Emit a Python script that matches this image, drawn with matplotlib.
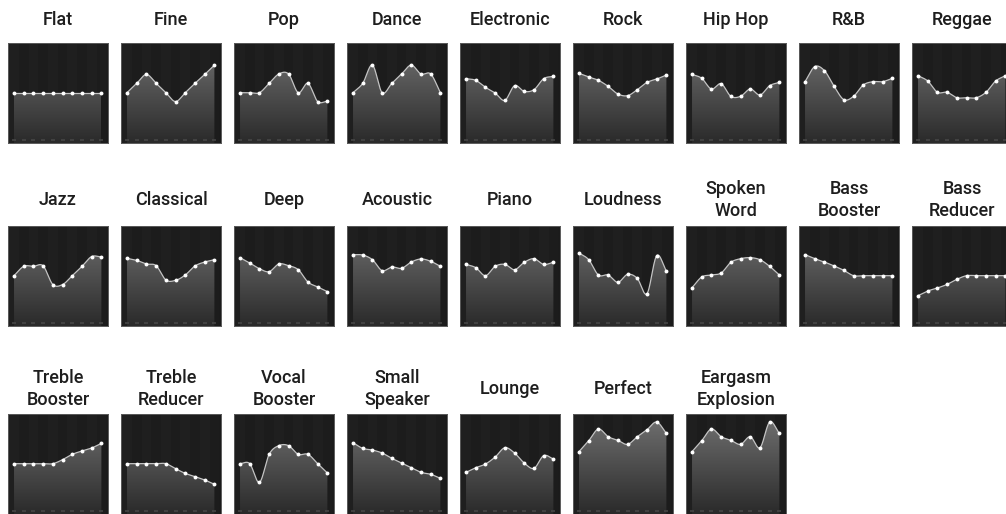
import numpy as np
import matplotlib
matplotlib.use("Agg")
import matplotlib.pyplot as plt

# EQ presets, 10 bands each (arbitrary gain units)
preset_names = ["Flat", "Fine", "Pop", "Dance", "Electronic", "Rock", "Hip Hop", "R&B", "Reggae",
                "Jazz", "Classical", "Deep", "Acoustic", "Piano", "Loudness", "Spoken\nWord",
                "Bass\nBooster", "Bass\nReducer",
                "Treble\nBooster", "Treble\nReducer", "Vocal\nBooster", "Small\nSpeaker",
                "Lounge", "Perfect", "Eargasm\nExplosion"]

flat = [0, 0, 0, 0, 0, 0, 0, 0, 0, 0]
fine = [0, 1.0, 1.95, 1.0, 0, -0.95, 0, 1.0, 1.95, 2.95]
pop = [0, 0, 0, 1.0, 2.0, 2.0, 0, 1.0, -0.95, -0.9]
dance = [0, 1.0, 2.95, 0, 1.0, 2.0, 2.95, 2.0, 2.0, 0]
electronic = [1.5, 1.32, 0.57, -0.04, -0.82, 0.75, 0.14, 0.32, 1.5, 1.75]
rock = [2.07, 1.68, 1.32, 0.68, -0.14, -0.32, 0.32, 1.1, 1.46, 1.89]
hip_hop = [1.96, 1.54, 0.39, 0.96, -0.39, -0.39, 0.39, -0.25, 0.75, 1.1]
rnb = [1.18, 2.79, 2.36, 0.68, -0.75, -0.39, 0.82, 1.18, 1.18, 1.54]
reggae = [1.82, 1.25, 0.04, 0.04, -0.54, -0.54, -0.54, 0.04, 1.25, 1.82]
jazz = [0, 1.0, 1.0, 1.05, -0.95, -0.95, 0, 1.0, 2.05, 2.0]
classical = [1.86, 1.64, 1.25, 1.07, -0.46, -0.5, 0.07, 1.04, 1.46, 1.71]
deep = [1.93, 1.36, 0.75, 0.43, 1.25, 1.07, 0.64, -0.68, -1.21, -1.71]
acoustic = [2.25, 2.21, 1.71, 0.54, 0.93, 0.79, 1.46, 1.79, 1.54, 1.0]
piano = [1.21, 0.86, 0, 1.0, 1.21, 0.64, 1.43, 1.82, 1.21, 1.43]
loudness = [2.43, 1.71, 0.07, 0.07, -0.71, 0.14, -0.29, -1.93, 2.14, 0.5]
spoken_word = [-1.29, -0.14, 0.07, 0.29, 1.43, 1.82, 1.93, 1.71, 1.0, 0.07]
bass_booster = [2.25, 1.82, 1.46, 1.04, 0.57, 0, 0, 0, 0, 0]
bass_reducer = [-2.14, -1.64, -1.32, -0.93, -0.39, 0, 0, 0, 0, 0]
treble_booster = [0, 0, 0, 0, 0, 0.43, 1.0, 1.36, 1.68, 2.18]
treble_reducer = [0, 0, 0, 0, 0, -0.54, -1.04, -1.39, -1.75, -2.21]
vocal_booster = [0, 0, -2.0, 1.0, 1.93, 1.93, 1.0, 1.0, 0, -1.0]
small_speaker = [2.25, 1.64, 1.46, 1.14, 0.57, 0.07, -0.43, -0.93, -1.14, -1.57]
lounge = [-0.93, -0.43, -0.04, 0.71, 1.71, 1.14, 0.07, -0.5, 0.86, 0.5]
perfect = [1.29, 2.46, 3.71, 2.89, 2.5, 2.07, 2.89, 3.64, 4.46, 3.25]
eargasm = [1.29, 2.46, 3.71, 2.89, 2.5, 2.07, 2.89, 1.71, 4.46, 3.25]

preset_values = [flat, fine, pop, dance, electronic, rock, hip_hop, rnb, reggae,
                 jazz, classical, deep, acoustic, piano, loudness, spoken_word, bass_booster, bass_reducer,
                 treble_booster, treble_reducer, vocal_booster, small_speaker, lounge, perfect, eargasm]

bands = np.arange(10)


def smooth_curve(y, n=24):
    """Catmull-Rom style cubic through the band points"""
    y = np.asarray(y, dtype=float)
    m = np.zeros_like(y)
    m[1:-1] = (y[2:] - y[:-2]) / 2
    m[0] = y[1] - y[0]
    m[-1] = y[-1] - y[-2]
    xs, ys = [], []
    for i in range(len(y) - 1):
        t = np.linspace(0, 1, n, endpoint=False)
        h00 = 2*t**3 - 3*t**2 + 1
        h10 = t**3 - 2*t**2 + t
        h01 = -2*t**3 + 3*t**2
        h11 = t**3 - t**2
        xs.append(i + t)
        ys.append(h00*y[i] + h10*m[i] + h01*y[i+1] + h11*m[i+1])
    xs.append([len(y) - 1])
    ys.append([y[-1]])
    return np.concatenate(xs), np.concatenate(ys)


W, H = 1006, 514
fig = plt.figure(figsize=(W/100, H/100), dpi=100)
fig.patch.set_facecolor('white')

row_tops = [43, 226, 414]
title_y = [20, 200, 389]
ylo, yhi = -5.39, 5.32
xlo, xhi = -0.62, 9.68

gradient = np.linspace(0, 1, 256).reshape(-1, 1)
fill_cmap = matplotlib.colors.LinearSegmentedColormap.from_list('eq', ['#2a2a2a', '#727272'])

for k, (name, vals) in enumerate(zip(preset_names, preset_values)):
    row, col = divmod(k, 9)
    left = 8 + 113*col
    top = row_tops[row]
    ax = fig.add_axes([left/W, 1 - (top + 100)/H, 100/W, 100/H])
    ax.set_xlim(xlo, xhi)
    ax.set_ylim(ylo, yhi)
    ax.set_facecolor('#1b1b1b')

    # very faint column stripes
    for b in bands:
        ax.axvspan(b - 0.5, b + 0.5, color='#1f1f1f' if b % 2 == 0 else '#1c1c1c', lw=0, zorder=0)

    xs, ys = smooth_curve(vals)
    poly = ax.fill_between(xs, ys, ylo, facecolor='none', edgecolor='none')
    img = ax.imshow(gradient, cmap=fill_cmap, origin='lower', aspect='auto',
                    extent=[xlo, xhi, ylo, yhi], zorder=1)
    img.set_clip_path(poly.get_paths()[0], transform=ax.transData)

    ax.plot(xs, ys, color='#c4c4c4', lw=0.9, zorder=2)
    ax.plot(bands, vals, 'o', color='white', ms=2.8, mec='none', zorder=3)
    # little dashes along the bottom
    ax.plot(bands, np.full(10, ylo + 0.35), '_', color='#484848', ms=3.2, mew=1.1, zorder=3)

    ax.set_xticks([])
    ax.set_yticks([])
    for s in ax.spines.values():
        s.set_color('#5a5a5a')
        s.set_linewidth(0.7)

    fig.text((left + 50)/W, 1 - title_y[row]/H, name, ha='center', va='center',
             fontsize=13, fontweight='medium', family=['Roboto', 'DejaVu Sans'],
             color='#1e1e1e', linespacing=1.22)

fig.savefig('out.png', dpi=100, facecolor='white')
